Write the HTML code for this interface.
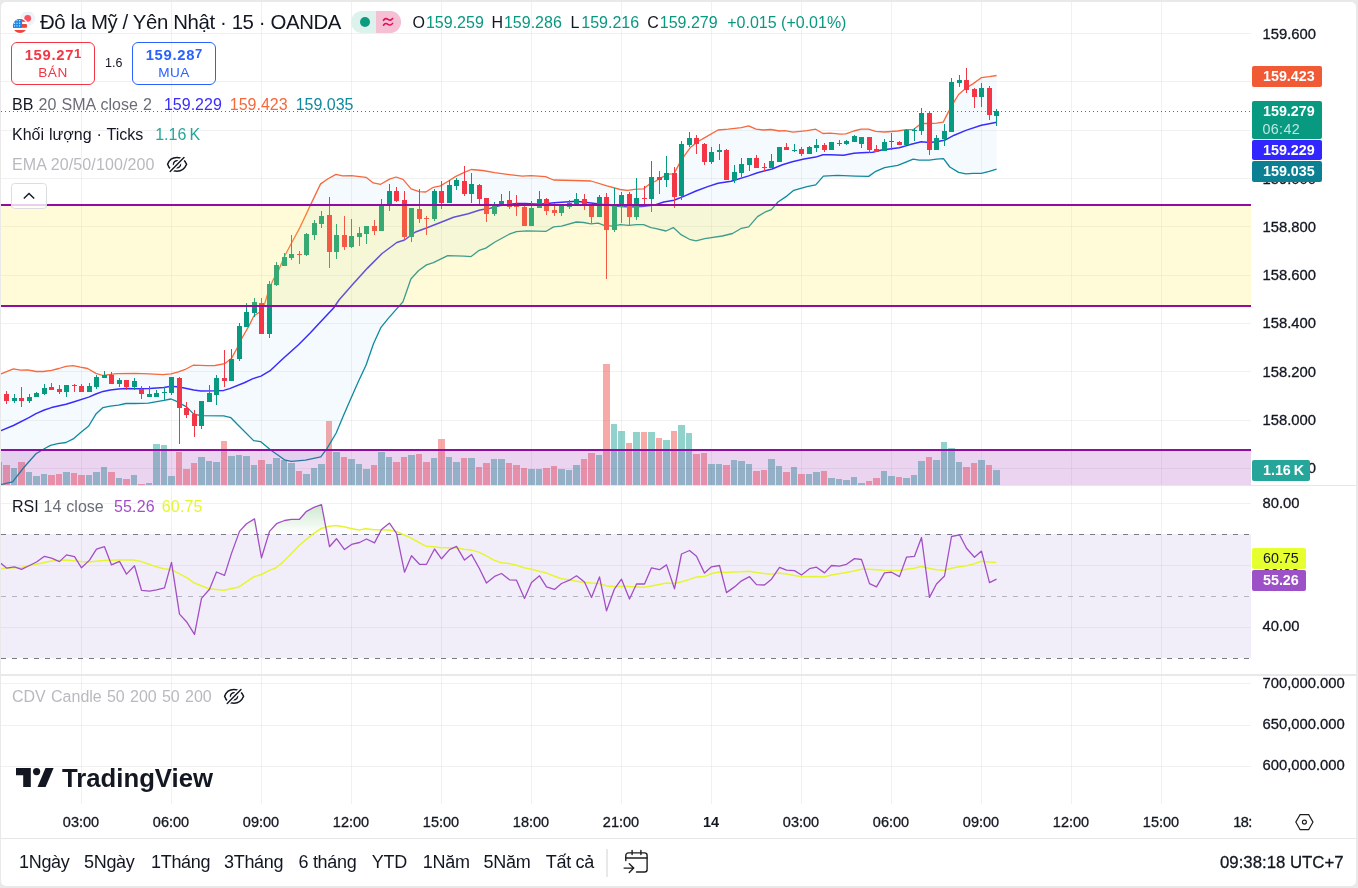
<!DOCTYPE html>
<html><head><meta charset="utf-8"><title>USDJPY</title>
<style>
*{box-sizing:border-box}
html,body{margin:0;padding:0}
body{width:1358px;height:888px;overflow:hidden;background:#e9e9e9;font-family:"Liberation Sans",sans-serif;color:#131722;position:relative}
#frame{position:absolute;left:1px;top:2px;width:1355px;height:884px;background:#fff;border-radius:5px;overflow:hidden}
#wrap{position:absolute;left:-1px;top:-2px;width:1358px;height:888px;will-change:transform}
svg.chart{position:absolute;left:0;top:0}
.t{position:absolute;white-space:nowrap;line-height:1}
.ax{-webkit-text-stroke:.3px #131722;position:absolute;left:1262.500px;font-size:14.800px;line-height:16px;height:16px;white-space:nowrap;color:#131722}
.lb{position:absolute;left:1252px;height:20px;border-radius:2px;color:#fff;font-size:14.300px;line-height:20px;padding-left:11px;white-space:nowrap;font-weight:bold}
.tm{-webkit-text-stroke:.3px #131722;position:absolute;top:813.500px;font-size:14.5px;line-height:16px;width:60px;text-align:center;color:#131722}
.rng{position:absolute;top:851.500px;letter-spacing:-.3px;font-size:18px;line-height:20px;color:#131722;white-space:nowrap}
.lg{position:absolute;left:12px;font-size:16px;line-height:20px;white-space:nowrap;margin-top:1px}
</style></head><body>
<div id="frame"><div id="wrap">
<svg class="chart" width="1358" height="888" viewBox="0 0 1358 888"><rect x="81" y="2" width="1" height="802" fill="rgba(0,0,0,0.055)"/><rect x="171" y="2" width="1" height="802" fill="rgba(0,0,0,0.055)"/><rect x="261" y="2" width="1" height="802" fill="rgba(0,0,0,0.055)"/><rect x="351" y="2" width="1" height="802" fill="rgba(0,0,0,0.055)"/><rect x="441" y="2" width="1" height="802" fill="rgba(0,0,0,0.055)"/><rect x="531" y="2" width="1" height="802" fill="rgba(0,0,0,0.055)"/><rect x="621" y="2" width="1" height="802" fill="rgba(0,0,0,0.055)"/><rect x="711" y="2" width="1" height="802" fill="rgba(0,0,0,0.055)"/><rect x="801" y="2" width="1" height="802" fill="rgba(0,0,0,0.055)"/><rect x="891" y="2" width="1" height="802" fill="rgba(0,0,0,0.055)"/><rect x="981" y="2" width="1" height="802" fill="rgba(0,0,0,0.055)"/><rect x="1071" y="2" width="1" height="802" fill="rgba(0,0,0,0.055)"/><rect x="1161" y="2" width="1" height="802" fill="rgba(0,0,0,0.055)"/><rect x="0" y="33" width="1251" height="1" fill="rgba(0,0,0,0.055)"/><rect x="0" y="81" width="1251" height="1" fill="rgba(0,0,0,0.055)"/><rect x="0" y="130" width="1251" height="1" fill="rgba(0,0,0,0.055)"/><rect x="0" y="178" width="1251" height="1" fill="rgba(0,0,0,0.055)"/><rect x="0" y="226" width="1251" height="1" fill="rgba(0,0,0,0.055)"/><rect x="0" y="275" width="1251" height="1" fill="rgba(0,0,0,0.055)"/><rect x="0" y="323" width="1251" height="1" fill="rgba(0,0,0,0.055)"/><rect x="0" y="371" width="1251" height="1" fill="rgba(0,0,0,0.055)"/><rect x="0" y="420" width="1251" height="1" fill="rgba(0,0,0,0.055)"/><rect x="0" y="468" width="1251" height="1" fill="rgba(0,0,0,0.055)"/><rect x="0" y="503" width="1251" height="1" fill="rgba(0,0,0,0.055)"/><rect x="0" y="565" width="1251" height="1" fill="rgba(0,0,0,0.055)"/><rect x="0" y="627" width="1251" height="1" fill="rgba(0,0,0,0.055)"/><rect x="0" y="683" width="1251" height="1" fill="rgba(0,0,0,0.055)"/><rect x="0" y="725" width="1251" height="1" fill="rgba(0,0,0,0.055)"/><rect x="0" y="766" width="1251" height="1" fill="rgba(0,0,0,0.055)"/><rect x="3" y="465" width="7" height="20" fill="rgba(239,83,80,0.5)"/><rect x="11" y="468" width="6" height="17" fill="rgba(38,166,154,0.5)"/><rect x="18" y="462" width="7" height="23" fill="rgba(239,83,80,0.5)"/><rect x="26" y="472" width="6" height="13" fill="rgba(38,166,154,0.5)"/><rect x="33" y="476" width="7" height="9" fill="rgba(38,166,154,0.5)"/><rect x="41" y="474" width="6" height="11" fill="rgba(38,166,154,0.5)"/><rect x="48" y="475" width="7" height="10" fill="rgba(239,83,80,0.5)"/><rect x="56" y="474" width="6" height="11" fill="rgba(239,83,80,0.5)"/><rect x="63" y="472" width="7" height="13" fill="rgba(38,166,154,0.5)"/><rect x="71" y="473" width="6" height="12" fill="rgba(239,83,80,0.5)"/><rect x="78" y="475" width="7" height="10" fill="rgba(239,83,80,0.5)"/><rect x="86" y="475" width="6" height="10" fill="rgba(38,166,154,0.5)"/><rect x="93" y="472" width="7" height="13" fill="rgba(38,166,154,0.5)"/><rect x="101" y="467" width="6" height="18" fill="rgba(38,166,154,0.5)"/><rect x="108" y="472" width="7" height="13" fill="rgba(239,83,80,0.5)"/><rect x="116" y="478" width="6" height="7" fill="rgba(38,166,154,0.5)"/><rect x="123" y="479" width="7" height="6" fill="rgba(239,83,80,0.5)"/><rect x="131" y="475" width="6" height="10" fill="rgba(38,166,154,0.5)"/><rect x="138" y="484" width="7" height="1" fill="rgba(239,83,80,0.5)"/><rect x="146" y="483" width="6" height="2" fill="rgba(38,166,154,0.5)"/><rect x="153" y="444" width="7" height="41" fill="rgba(38,166,154,0.5)"/><rect x="161" y="445" width="6" height="40" fill="rgba(38,166,154,0.5)"/><rect x="168" y="476" width="7" height="9" fill="rgba(38,166,154,0.5)"/><rect x="176" y="452" width="6" height="33" fill="rgba(239,83,80,0.5)"/><rect x="183" y="469" width="7" height="16" fill="rgba(239,83,80,0.5)"/><rect x="191" y="463" width="6" height="22" fill="rgba(239,83,80,0.5)"/><rect x="198" y="457" width="7" height="28" fill="rgba(38,166,154,0.5)"/><rect x="206" y="461" width="6" height="24" fill="rgba(38,166,154,0.5)"/><rect x="213" y="462" width="7" height="23" fill="rgba(38,166,154,0.5)"/><rect x="221" y="441" width="6" height="44" fill="rgba(239,83,80,0.5)"/><rect x="228" y="456" width="7" height="29" fill="rgba(38,166,154,0.5)"/><rect x="236" y="455" width="6" height="30" fill="rgba(38,166,154,0.5)"/><rect x="243" y="456" width="7" height="29" fill="rgba(38,166,154,0.5)"/><rect x="251" y="465" width="6" height="20" fill="rgba(38,166,154,0.5)"/><rect x="258" y="460" width="7" height="25" fill="rgba(239,83,80,0.5)"/><rect x="266" y="464" width="6" height="21" fill="rgba(38,166,154,0.5)"/><rect x="273" y="458" width="7" height="27" fill="rgba(38,166,154,0.5)"/><rect x="281" y="460" width="6" height="25" fill="rgba(38,166,154,0.5)"/><rect x="288" y="463" width="7" height="22" fill="rgba(38,166,154,0.5)"/><rect x="296" y="471" width="6" height="14" fill="rgba(239,83,80,0.5)"/><rect x="303" y="474" width="7" height="11" fill="rgba(38,166,154,0.5)"/><rect x="311" y="468" width="6" height="17" fill="rgba(38,166,154,0.5)"/><rect x="318" y="464" width="7" height="21" fill="rgba(38,166,154,0.5)"/><rect x="326" y="421" width="6" height="64" fill="rgba(239,83,80,0.5)"/><rect x="333" y="452" width="7" height="33" fill="rgba(38,166,154,0.5)"/><rect x="341" y="457" width="6" height="28" fill="rgba(239,83,80,0.5)"/><rect x="348" y="459" width="7" height="26" fill="rgba(38,166,154,0.5)"/><rect x="356" y="464" width="6" height="21" fill="rgba(38,166,154,0.5)"/><rect x="363" y="469" width="7" height="16" fill="rgba(38,166,154,0.5)"/><rect x="371" y="465" width="6" height="20" fill="rgba(239,83,80,0.5)"/><rect x="378" y="452" width="7" height="33" fill="rgba(38,166,154,0.5)"/><rect x="386" y="457" width="6" height="28" fill="rgba(38,166,154,0.5)"/><rect x="393" y="462" width="7" height="23" fill="rgba(239,83,80,0.5)"/><rect x="401" y="457" width="6" height="28" fill="rgba(239,83,80,0.5)"/><rect x="408" y="455" width="7" height="30" fill="rgba(38,166,154,0.5)"/><rect x="416" y="454" width="6" height="31" fill="rgba(239,83,80,0.5)"/><rect x="423" y="462" width="7" height="23" fill="rgba(239,83,80,0.5)"/><rect x="431" y="458" width="6" height="27" fill="rgba(38,166,154,0.5)"/><rect x="438" y="439" width="7" height="46" fill="rgba(239,83,80,0.5)"/><rect x="446" y="457" width="6" height="28" fill="rgba(38,166,154,0.5)"/><rect x="453" y="462" width="7" height="23" fill="rgba(38,166,154,0.5)"/><rect x="461" y="458" width="6" height="27" fill="rgba(239,83,80,0.5)"/><rect x="468" y="458" width="7" height="27" fill="rgba(38,166,154,0.5)"/><rect x="476" y="467" width="6" height="18" fill="rgba(239,83,80,0.5)"/><rect x="483" y="463" width="7" height="22" fill="rgba(239,83,80,0.5)"/><rect x="491" y="459" width="6" height="26" fill="rgba(38,166,154,0.5)"/><rect x="498" y="459" width="7" height="26" fill="rgba(38,166,154,0.5)"/><rect x="506" y="463" width="6" height="22" fill="rgba(239,83,80,0.5)"/><rect x="513" y="465" width="7" height="20" fill="rgba(239,83,80,0.5)"/><rect x="521" y="468" width="6" height="17" fill="rgba(239,83,80,0.5)"/><rect x="528" y="469" width="7" height="16" fill="rgba(38,166,154,0.5)"/><rect x="536" y="469" width="6" height="16" fill="rgba(38,166,154,0.5)"/><rect x="543" y="468" width="7" height="17" fill="rgba(239,83,80,0.5)"/><rect x="551" y="466" width="6" height="19" fill="rgba(239,83,80,0.5)"/><rect x="558" y="469" width="7" height="16" fill="rgba(38,166,154,0.5)"/><rect x="566" y="470" width="6" height="15" fill="rgba(38,166,154,0.5)"/><rect x="573" y="465" width="7" height="20" fill="rgba(38,166,154,0.5)"/><rect x="581" y="459" width="6" height="26" fill="rgba(239,83,80,0.5)"/><rect x="588" y="453" width="7" height="32" fill="rgba(239,83,80,0.5)"/><rect x="596" y="455" width="6" height="30" fill="rgba(38,166,154,0.5)"/><rect x="603" y="364" width="7" height="121" fill="rgba(239,83,80,0.5)"/><rect x="611" y="424" width="6" height="61" fill="rgba(38,166,154,0.5)"/><rect x="618" y="431" width="7" height="54" fill="rgba(38,166,154,0.5)"/><rect x="626" y="443" width="6" height="42" fill="rgba(239,83,80,0.5)"/><rect x="633" y="432" width="7" height="53" fill="rgba(38,166,154,0.5)"/><rect x="641" y="432" width="6" height="53" fill="rgba(239,83,80,0.5)"/><rect x="648" y="432" width="7" height="53" fill="rgba(38,166,154,0.5)"/><rect x="656" y="438" width="6" height="47" fill="rgba(239,83,80,0.5)"/><rect x="663" y="440" width="7" height="45" fill="rgba(38,166,154,0.5)"/><rect x="671" y="431" width="6" height="54" fill="rgba(239,83,80,0.5)"/><rect x="678" y="425" width="7" height="60" fill="rgba(38,166,154,0.5)"/><rect x="686" y="433" width="6" height="52" fill="rgba(38,166,154,0.5)"/><rect x="693" y="454" width="7" height="31" fill="rgba(239,83,80,0.5)"/><rect x="701" y="453" width="6" height="32" fill="rgba(239,83,80,0.5)"/><rect x="708" y="464" width="7" height="21" fill="rgba(38,166,154,0.5)"/><rect x="716" y="464" width="6" height="21" fill="rgba(38,166,154,0.5)"/><rect x="723" y="465" width="7" height="20" fill="rgba(239,83,80,0.5)"/><rect x="731" y="460" width="6" height="25" fill="rgba(38,166,154,0.5)"/><rect x="738" y="461" width="7" height="24" fill="rgba(38,166,154,0.5)"/><rect x="746" y="464" width="6" height="21" fill="rgba(38,166,154,0.5)"/><rect x="753" y="471" width="7" height="14" fill="rgba(239,83,80,0.5)"/><rect x="761" y="470" width="6" height="15" fill="rgba(239,83,80,0.5)"/><rect x="768" y="459" width="7" height="26" fill="rgba(38,166,154,0.5)"/><rect x="776" y="466" width="6" height="19" fill="rgba(38,166,154,0.5)"/><rect x="783" y="472" width="7" height="13" fill="rgba(239,83,80,0.5)"/><rect x="791" y="467" width="6" height="18" fill="rgba(38,166,154,0.5)"/><rect x="798" y="474" width="7" height="11" fill="rgba(239,83,80,0.5)"/><rect x="806" y="474" width="6" height="11" fill="rgba(38,166,154,0.5)"/><rect x="813" y="472" width="7" height="13" fill="rgba(38,166,154,0.5)"/><rect x="821" y="471" width="6" height="14" fill="rgba(239,83,80,0.5)"/><rect x="828" y="478" width="7" height="7" fill="rgba(38,166,154,0.5)"/><rect x="836" y="479" width="6" height="6" fill="rgba(38,166,154,0.5)"/><rect x="843" y="480" width="7" height="5" fill="rgba(38,166,154,0.5)"/><rect x="851" y="477" width="6" height="8" fill="rgba(38,166,154,0.5)"/><rect x="858" y="483" width="7" height="2" fill="rgba(38,166,154,0.5)"/><rect x="866" y="481" width="6" height="4" fill="rgba(239,83,80,0.5)"/><rect x="873" y="478" width="7" height="7" fill="rgba(239,83,80,0.5)"/><rect x="881" y="471" width="6" height="14" fill="rgba(38,166,154,0.5)"/><rect x="888" y="476" width="7" height="9" fill="rgba(38,166,154,0.5)"/><rect x="896" y="477" width="6" height="8" fill="rgba(239,83,80,0.5)"/><rect x="903" y="478" width="7" height="7" fill="rgba(38,166,154,0.5)"/><rect x="911" y="475" width="6" height="10" fill="rgba(38,166,154,0.5)"/><rect x="918" y="461" width="7" height="24" fill="rgba(38,166,154,0.5)"/><rect x="926" y="457" width="6" height="28" fill="rgba(239,83,80,0.5)"/><rect x="933" y="460" width="7" height="25" fill="rgba(38,166,154,0.5)"/><rect x="941" y="442" width="6" height="43" fill="rgba(38,166,154,0.5)"/><rect x="948" y="448" width="7" height="37" fill="rgba(38,166,154,0.5)"/><rect x="956" y="462" width="6" height="23" fill="rgba(38,166,154,0.5)"/><rect x="963" y="467" width="7" height="18" fill="rgba(239,83,80,0.5)"/><rect x="971" y="463" width="6" height="22" fill="rgba(239,83,80,0.5)"/><rect x="978" y="460" width="7" height="25" fill="rgba(38,166,154,0.5)"/><rect x="986" y="465" width="6" height="20" fill="rgba(239,83,80,0.5)"/><rect x="993" y="470" width="7" height="15" fill="rgba(38,166,154,0.5)"/><rect x="0" y="462" width="2" height="23" fill="rgba(38,166,154,0.5)"/><polygon points="0.0,374.2 1.0,373.9 13.4,368.8 20.6,370.1 27.8,369.8 36.0,371.5 43.3,371.5 51.5,370.3 58.8,368.5 66.0,366.4 73.2,365.7 80.4,367.2 87.6,368.5 95.9,373.4 103.0,375.5 109.0,374.6 116.5,373.6 135.0,373.4 149.4,373.9 162.8,374.6 171.0,373.9 178.3,371.9 185.5,369.3 193.2,365.2 207.0,365.7 215.0,365.5 224.5,363.7 231.4,358.6 237.0,348.3 242.0,338.0 248.7,326.4 253.8,316.0 259.0,312.5 264.8,303.4 269.4,288.0 273.6,279.0 278.9,269.6 284.8,255.7 291.4,243.2 300.1,227.1 310.4,205.1 320.6,183.9 328.0,178.8 336.0,174.4 342.6,175.9 351.4,175.6 366.0,177.3 373.3,182.9 380.7,184.3 389.5,179.1 396.0,177.0 403.0,179.3 411.1,188.8 419.2,191.7 425.7,192.0 433.4,187.3 440.4,185.9 447.7,181.5 455.8,176.4 463.8,172.7 471.1,169.5 482.8,170.5 494.6,172.7 509.2,174.6 522.4,176.1 530.9,175.6 545.5,176.6 553.6,180.0 574.8,180.5 590.9,181.0 607.0,185.9 620.2,189.5 627.5,190.3 636.3,189.2 643.6,188.8 650.9,182.9 655.0,181.5 660.9,177.8 668.2,174.2 674.0,173.9 679.2,163.9 684.3,155.9 690.1,147.8 697.5,141.7 704.8,137.6 718.0,130.0 728.2,129.1 741.4,127.6 748.7,125.9 756.0,129.1 763.3,130.0 770.7,129.5 779.5,131.0 785.0,130.7 793.0,132.2 807.0,130.7 815.7,129.2 823.0,133.5 830.4,133.2 840.6,134.2 845.8,133.9 853.8,131.0 861.1,129.1 868.5,129.1 875.8,131.3 884.6,132.0 897.7,131.0 905.9,129.7 913.2,129.7 921.2,123.5 929.3,123.5 936.6,123.1 943.2,122.1 948.3,112.1 954.2,101.6 958.6,94.5 965.2,88.7 973.2,83.6 981.3,77.7 989.3,76.7 996.6,75.5 996.6,169.2 989.3,171.4 981.3,173.3 973.2,173.3 965.9,173.9 958.6,172.4 949.8,167.0 943.5,158.7 936.6,159.2 929.3,160.1 919.0,160.1 913.2,159.2 905.9,162.2 897.7,165.4 884.6,167.6 875.8,171.3 868.7,176.4 855.3,176.1 837.7,175.4 823.4,176.1 815.7,184.9 807.0,186.6 793.8,190.3 786.8,196.1 778.0,202.0 771.4,209.6 764.8,212.2 757.5,216.6 748.7,226.9 741.4,228.3 732.6,233.5 722.3,236.0 704.8,238.6 696.0,240.8 689.4,239.3 681.4,234.9 673.3,227.6 666.0,231.0 655.0,228.3 650.9,227.6 643.6,224.7 636.3,224.7 629.0,225.4 620.2,224.7 612.8,226.1 604.0,225.4 598.2,223.2 590.9,223.9 583.6,222.5 576.2,222.0 561.6,226.1 553.6,226.9 546.2,231.3 526.8,230.8 516.5,231.7 509.2,234.2 494.6,242.2 485.8,248.1 479.2,250.3 471.1,256.6 463.8,256.1 447.7,255.7 433.4,262.7 426.5,264.9 418.4,270.8 410.9,279.0 403.0,301.7 396.0,309.6 388.5,318.1 381.0,327.3 373.5,343.8 366.0,365.2 358.5,381.2 351.0,398.3 343.5,415.5 336.2,433.0 326.6,449.2 320.8,456.9 305.5,460.2 291.2,461.3 284.5,459.8 271.0,450.2 260.5,441.6 253.6,440.6 238.0,425.0 230.9,417.7 223.7,415.9 201.0,415.7 193.8,414.1 186.5,406.9 176.2,401.2 171.0,399.0 163.9,400.4 148.4,403.1 135.0,403.5 125.8,403.5 118.6,405.2 110.3,406.2 103.0,407.6 95.9,414.1 88.7,426.0 80.4,432.7 73.2,438.9 66.0,442.5 57.7,443.7 50.5,445.4 44.3,448.7 36.0,453.8 23.4,468.0 12.6,481.9 1.8,484.4 0.0,485.5" fill="rgba(33,150,243,0.05)"/><polyline points="0.0,374.2 1.0,373.9 13.4,368.8 20.6,370.1 27.8,369.8 36.0,371.5 43.3,371.5 51.5,370.3 58.8,368.5 66.0,366.4 73.2,365.7 80.4,367.2 87.6,368.5 95.9,373.4 103.0,375.5 109.0,374.6 116.5,373.6 135.0,373.4 149.4,373.9 162.8,374.6 171.0,373.9 178.3,371.9 185.5,369.3 193.2,365.2 207.0,365.7 215.0,365.5 224.5,363.7 231.4,358.6 237.0,348.3 242.0,338.0 248.7,326.4 253.8,316.0 259.0,312.5 264.8,303.4 269.4,288.0 273.6,279.0 278.9,269.6 284.8,255.7 291.4,243.2 300.1,227.1 310.4,205.1 320.6,183.9 328.0,178.8 336.0,174.4 342.6,175.9 351.4,175.6 366.0,177.3 373.3,182.9 380.7,184.3 389.5,179.1 396.0,177.0 403.0,179.3 411.1,188.8 419.2,191.7 425.7,192.0 433.4,187.3 440.4,185.9 447.7,181.5 455.8,176.4 463.8,172.7 471.1,169.5 482.8,170.5 494.6,172.7 509.2,174.6 522.4,176.1 530.9,175.6 545.5,176.6 553.6,180.0 574.8,180.5 590.9,181.0 607.0,185.9 620.2,189.5 627.5,190.3 636.3,189.2 643.6,188.8 650.9,182.9 655.0,181.5 660.9,177.8 668.2,174.2 674.0,173.9 679.2,163.9 684.3,155.9 690.1,147.8 697.5,141.7 704.8,137.6 718.0,130.0 728.2,129.1 741.4,127.6 748.7,125.9 756.0,129.1 763.3,130.0 770.7,129.5 779.5,131.0 785.0,130.7 793.0,132.2 807.0,130.7 815.7,129.2 823.0,133.5 830.4,133.2 840.6,134.2 845.8,133.9 853.8,131.0 861.1,129.1 868.5,129.1 875.8,131.3 884.6,132.0 897.7,131.0 905.9,129.7 913.2,129.7 921.2,123.5 929.3,123.5 936.6,123.1 943.2,122.1 948.3,112.1 954.2,101.6 958.6,94.5 965.2,88.7 973.2,83.6 981.3,77.7 989.3,76.7 996.6,75.5" fill="none" stroke="#f7683b" stroke-width="1.3" stroke-linejoin="round"/><polyline points="0.0,485.5 1.8,484.4 12.6,481.9 23.4,468.0 36.0,453.8 44.3,448.7 50.5,445.4 57.7,443.7 66.0,442.5 73.2,438.9 80.4,432.7 88.7,426.0 95.9,414.1 103.0,407.6 110.3,406.2 118.6,405.2 125.8,403.5 135.0,403.5 148.4,403.1 163.9,400.4 171.0,399.0 176.2,401.2 186.5,406.9 193.8,414.1 201.0,415.7 223.7,415.9 230.9,417.7 238.0,425.0 253.6,440.6 260.5,441.6 271.0,450.2 284.5,459.8 291.2,461.3 305.5,460.2 320.8,456.9 326.6,449.2 336.2,433.0 343.5,415.5 351.0,398.3 358.5,381.2 366.0,365.2 373.5,343.8 381.0,327.3 388.5,318.1 396.0,309.6 403.0,301.7 410.9,279.0 418.4,270.8 426.5,264.9 433.4,262.7 447.7,255.7 463.8,256.1 471.1,256.6 479.2,250.3 485.8,248.1 494.6,242.2 509.2,234.2 516.5,231.7 526.8,230.8 546.2,231.3 553.6,226.9 561.6,226.1 576.2,222.0 583.6,222.5 590.9,223.9 598.2,223.2 604.0,225.4 612.8,226.1 620.2,224.7 629.0,225.4 636.3,224.7 643.6,224.7 650.9,227.6 655.0,228.3 666.0,231.0 673.3,227.6 681.4,234.9 689.4,239.3 696.0,240.8 704.8,238.6 722.3,236.0 732.6,233.5 741.4,228.3 748.7,226.9 757.5,216.6 764.8,212.2 771.4,209.6 778.0,202.0 786.8,196.1 793.8,190.3 807.0,186.6 815.7,184.9 823.4,176.1 837.7,175.4 855.3,176.1 868.7,176.4 875.8,171.3 884.6,167.6 897.7,165.4 905.9,162.2 913.2,159.2 919.0,160.1 929.3,160.1 936.6,159.2 943.5,158.7 949.8,167.0 958.6,172.4 965.9,173.9 973.2,173.3 981.3,173.3 989.3,171.4 996.6,169.2" fill="none" stroke="#0e8a9e" stroke-width="1.3" stroke-linejoin="round"/><polyline points="0.0,431.0 1.0,430.6 13.4,425.5 28.9,417.7 36.0,413.6 44.3,410.0 51.5,407.6 66.0,404.3 74.2,401.8 88.7,397.1 95.9,394.0 103.0,391.4 110.3,390.1 118.6,389.1 125.8,388.4 135.0,388.7 149.4,388.4 163.9,387.6 171.0,386.3 179.3,387.0 186.5,388.4 193.8,390.1 201.0,390.9 215.4,390.7 223.7,390.4 229.6,388.6 244.3,382.7 253.0,378.6 261.0,376.1 270.6,370.3 282.3,359.3 298.5,344.7 310.2,333.0 320.4,322.0 333.6,308.0 339.0,300.0 352.8,284.2 367.5,268.1 382.1,253.5 396.8,242.5 404.5,240.0 415.5,232.0 425.7,228.3 440.4,222.5 453.6,217.3 468.2,213.7 479.9,210.0 490.2,208.3 500.4,205.6 516.5,203.4 525.0,203.4 539.6,204.2 554.3,202.7 576.2,201.2 590.9,203.0 607.0,204.9 620.2,206.4 630.4,207.1 642.1,206.4 655.0,204.9 663.8,202.0 674.0,200.2 684.3,196.1 696.0,191.0 707.7,186.6 718.0,183.2 731.1,181.2 748.7,175.9 757.5,172.7 772.1,169.0 782.4,164.7 792.3,161.7 804.0,159.1 815.7,157.1 823.0,154.7 830.4,154.7 843.6,155.2 853.8,153.2 861.1,152.7 872.8,152.2 881.6,150.0 899.2,147.8 910.2,144.6 921.2,141.7 929.3,142.4 936.6,141.7 945.4,139.9 954.2,135.2 965.9,130.4 981.3,125.3 989.3,123.8 996.6,122.3" fill="none" stroke="#3a2cff" stroke-width="1.5" stroke-linejoin="round"/><rect x="6.0" y="391.0" width="1" height="13.0" fill="#f23645"/><rect x="4.0" y="394.0" width="5" height="7.0" fill="#f23645"/><rect x="14.0" y="394.0" width="1" height="9.0" fill="#089981"/><rect x="12.0" y="398.0" width="5" height="3.0" fill="#089981"/><rect x="21.0" y="387.0" width="1" height="20.0" fill="#f23645"/><rect x="19.0" y="398.0" width="5" height="3.0" fill="#f23645"/><rect x="29.0" y="394.0" width="1" height="9.0" fill="#089981"/><rect x="27.0" y="397.0" width="5" height="4.0" fill="#089981"/><rect x="36.0" y="392.0" width="1" height="5.0" fill="#089981"/><rect x="34.0" y="393.0" width="5" height="4.0" fill="#089981"/><rect x="44.0" y="384.0" width="1" height="11.0" fill="#089981"/><rect x="42.0" y="388.0" width="5" height="6.0" fill="#089981"/><rect x="51.0" y="383.0" width="1" height="7.0" fill="#f23645"/><rect x="49.0" y="387.0" width="5" height="3.0" fill="#f23645"/><rect x="59.0" y="385.0" width="1" height="9.0" fill="#f23645"/><rect x="57.0" y="389.0" width="5" height="3.0" fill="#f23645"/><rect x="66.0" y="385.0" width="1" height="12.0" fill="#089981"/><rect x="64.0" y="385.0" width="5" height="7.0" fill="#089981"/><rect x="74.0" y="384.0" width="1" height="8.0" fill="#f23645"/><rect x="72.0" y="385.0" width="5" height="1.0" fill="#f23645"/><rect x="81.0" y="384.0" width="1" height="8.0" fill="#f23645"/><rect x="79.0" y="386.0" width="5" height="6.0" fill="#f23645"/><rect x="89.0" y="383.0" width="1" height="9.0" fill="#089981"/><rect x="87.0" y="386.0" width="5" height="6.0" fill="#089981"/><rect x="96.0" y="375.0" width="1" height="14.0" fill="#089981"/><rect x="94.0" y="377.0" width="5" height="10.0" fill="#089981"/><rect x="104.0" y="371.0" width="1" height="7.0" fill="#089981"/><rect x="102.0" y="375.0" width="5" height="3.0" fill="#089981"/><rect x="111.0" y="372.0" width="1" height="12.0" fill="#f23645"/><rect x="109.0" y="375.0" width="5" height="9.0" fill="#f23645"/><rect x="119.0" y="378.0" width="1" height="9.0" fill="#089981"/><rect x="117.0" y="380.0" width="5" height="4.0" fill="#089981"/><rect x="126.0" y="380.0" width="1" height="10.0" fill="#f23645"/><rect x="124.0" y="380.0" width="5" height="7.0" fill="#f23645"/><rect x="134.0" y="378.0" width="1" height="12.0" fill="#089981"/><rect x="132.0" y="381.0" width="5" height="6.0" fill="#089981"/><rect x="141.0" y="386.0" width="1" height="13.0" fill="#f23645"/><rect x="139.0" y="389.0" width="5" height="5.0" fill="#f23645"/><rect x="149.0" y="386.0" width="1" height="11.0" fill="#089981"/><rect x="147.0" y="394.0" width="5" height="3.0" fill="#089981"/><rect x="156.0" y="390.0" width="1" height="7.0" fill="#089981"/><rect x="154.0" y="393.0" width="5" height="4.0" fill="#089981"/><rect x="164.0" y="387.0" width="1" height="13.0" fill="#089981"/><rect x="162.0" y="392.0" width="5" height="1.0" fill="#089981"/><rect x="171.0" y="377.0" width="1" height="18.0" fill="#089981"/><rect x="169.0" y="377.0" width="5" height="16.0" fill="#089981"/><rect x="179.0" y="377.0" width="1" height="67.0" fill="#f23645"/><rect x="177.0" y="378.0" width="5" height="30.0" fill="#f23645"/><rect x="186.0" y="402.0" width="1" height="16.0" fill="#f23645"/><rect x="184.0" y="408.0" width="5" height="7.0" fill="#f23645"/><rect x="194.0" y="410.0" width="1" height="27.0" fill="#f23645"/><rect x="192.0" y="414.0" width="5" height="12.0" fill="#f23645"/><rect x="201.0" y="401.0" width="1" height="28.0" fill="#089981"/><rect x="199.0" y="401.0" width="5" height="25.0" fill="#089981"/><rect x="209.0" y="385.0" width="1" height="17.0" fill="#089981"/><rect x="207.0" y="393.0" width="5" height="9.0" fill="#089981"/><rect x="216.0" y="375.0" width="1" height="30.0" fill="#089981"/><rect x="214.0" y="378.0" width="5" height="17.0" fill="#089981"/><rect x="224.0" y="350.0" width="1" height="37.0" fill="#f23645"/><rect x="222.0" y="378.0" width="5" height="3.0" fill="#f23645"/><rect x="231.0" y="349.0" width="1" height="32.0" fill="#089981"/><rect x="229.0" y="359.0" width="5" height="22.0" fill="#089981"/><rect x="239.0" y="323.0" width="1" height="38.0" fill="#089981"/><rect x="237.0" y="326.0" width="5" height="33.0" fill="#089981"/><rect x="246.0" y="303.0" width="1" height="24.0" fill="#089981"/><rect x="244.0" y="312.0" width="5" height="15.0" fill="#089981"/><rect x="254.0" y="298.0" width="1" height="19.0" fill="#089981"/><rect x="252.0" y="302.0" width="5" height="11.0" fill="#089981"/><rect x="261.0" y="298.0" width="1" height="36.0" fill="#f23645"/><rect x="259.0" y="303.0" width="5" height="31.0" fill="#f23645"/><rect x="269.0" y="281.0" width="1" height="57.0" fill="#089981"/><rect x="267.0" y="284.0" width="5" height="50.0" fill="#089981"/><rect x="276.0" y="262.0" width="1" height="24.0" fill="#089981"/><rect x="274.0" y="265.0" width="5" height="20.0" fill="#089981"/><rect x="284.0" y="253.0" width="1" height="13.0" fill="#089981"/><rect x="282.0" y="257.0" width="5" height="9.0" fill="#089981"/><rect x="291.0" y="235.0" width="1" height="25.0" fill="#089981"/><rect x="289.0" y="254.0" width="5" height="4.0" fill="#089981"/><rect x="299.0" y="251.0" width="1" height="13.0" fill="#f23645"/><rect x="297.0" y="254.0" width="5" height="1.0" fill="#f23645"/><rect x="306.0" y="233.0" width="1" height="23.0" fill="#089981"/><rect x="304.0" y="234.0" width="5" height="21.0" fill="#089981"/><rect x="314.0" y="220.0" width="1" height="20.0" fill="#089981"/><rect x="312.0" y="223.0" width="5" height="12.0" fill="#089981"/><rect x="321.0" y="211.0" width="1" height="17.0" fill="#089981"/><rect x="319.0" y="216.0" width="5" height="8.0" fill="#089981"/><rect x="329.0" y="197.0" width="1" height="71.0" fill="#f23645"/><rect x="327.0" y="215.0" width="5" height="37.0" fill="#f23645"/><rect x="336.0" y="224.0" width="1" height="35.0" fill="#089981"/><rect x="334.0" y="235.0" width="5" height="17.0" fill="#089981"/><rect x="344.0" y="216.0" width="1" height="34.0" fill="#f23645"/><rect x="342.0" y="235.0" width="5" height="12.0" fill="#f23645"/><rect x="351.0" y="219.0" width="1" height="29.0" fill="#089981"/><rect x="349.0" y="236.0" width="5" height="11.0" fill="#089981"/><rect x="359.0" y="227.0" width="1" height="19.0" fill="#089981"/><rect x="357.0" y="233.0" width="5" height="4.0" fill="#089981"/><rect x="366.0" y="226.0" width="1" height="18.0" fill="#089981"/><rect x="364.0" y="226.0" width="5" height="8.0" fill="#089981"/><rect x="374.0" y="220.0" width="1" height="15.0" fill="#f23645"/><rect x="372.0" y="226.0" width="5" height="5.0" fill="#f23645"/><rect x="381.0" y="199.0" width="1" height="32.0" fill="#089981"/><rect x="379.0" y="206.0" width="5" height="25.0" fill="#089981"/><rect x="389.0" y="184.0" width="1" height="27.0" fill="#089981"/><rect x="387.0" y="191.0" width="5" height="13.0" fill="#089981"/><rect x="396.0" y="187.0" width="1" height="15.0" fill="#f23645"/><rect x="394.0" y="191.0" width="5" height="10.0" fill="#f23645"/><rect x="404.0" y="191.0" width="1" height="48.0" fill="#f23645"/><rect x="402.0" y="200.0" width="5" height="37.0" fill="#f23645"/><rect x="411.0" y="208.0" width="1" height="34.0" fill="#089981"/><rect x="409.0" y="208.0" width="5" height="29.0" fill="#089981"/><rect x="419.0" y="189.0" width="1" height="34.0" fill="#f23645"/><rect x="417.0" y="209.0" width="5" height="10.0" fill="#f23645"/><rect x="426.0" y="216.0" width="1" height="19.0" fill="#f23645"/><rect x="424.0" y="218.0" width="5" height="1.0" fill="#f23645"/><rect x="434.0" y="189.0" width="1" height="32.0" fill="#089981"/><rect x="432.0" y="191.0" width="5" height="28.0" fill="#089981"/><rect x="441.0" y="181.0" width="1" height="28.0" fill="#f23645"/><rect x="439.0" y="191.0" width="5" height="12.0" fill="#f23645"/><rect x="449.0" y="180.0" width="1" height="23.0" fill="#089981"/><rect x="447.0" y="185.0" width="5" height="18.0" fill="#089981"/><rect x="456.0" y="178.0" width="1" height="12.0" fill="#089981"/><rect x="454.0" y="180.0" width="5" height="6.0" fill="#089981"/><rect x="464.0" y="166.0" width="1" height="30.0" fill="#f23645"/><rect x="462.0" y="181.0" width="5" height="13.0" fill="#f23645"/><rect x="471.0" y="173.0" width="1" height="30.0" fill="#089981"/><rect x="469.0" y="184.0" width="5" height="10.0" fill="#089981"/><rect x="479.0" y="184.0" width="1" height="20.0" fill="#f23645"/><rect x="477.0" y="185.0" width="5" height="14.0" fill="#f23645"/><rect x="486.0" y="198.0" width="1" height="24.0" fill="#f23645"/><rect x="484.0" y="198.0" width="5" height="16.0" fill="#f23645"/><rect x="494.0" y="202.0" width="1" height="14.0" fill="#089981"/><rect x="492.0" y="206.0" width="5" height="8.0" fill="#089981"/><rect x="501.0" y="194.0" width="1" height="12.0" fill="#089981"/><rect x="499.0" y="201.0" width="5" height="5.0" fill="#089981"/><rect x="509.0" y="191.0" width="1" height="18.0" fill="#f23645"/><rect x="507.0" y="200.0" width="5" height="7.0" fill="#f23645"/><rect x="516.0" y="195.0" width="1" height="21.0" fill="#f23645"/><rect x="514.0" y="205.0" width="5" height="2.0" fill="#f23645"/><rect x="524.0" y="206.0" width="1" height="20.0" fill="#f23645"/><rect x="522.0" y="207.0" width="5" height="19.0" fill="#f23645"/><rect x="531.0" y="201.0" width="1" height="25.0" fill="#089981"/><rect x="529.0" y="208.0" width="5" height="18.0" fill="#089981"/><rect x="539.0" y="191.0" width="1" height="17.0" fill="#089981"/><rect x="537.0" y="199.0" width="5" height="9.0" fill="#089981"/><rect x="546.0" y="198.0" width="1" height="17.0" fill="#f23645"/><rect x="544.0" y="199.0" width="5" height="12.0" fill="#f23645"/><rect x="554.0" y="203.0" width="1" height="13.0" fill="#f23645"/><rect x="552.0" y="210.0" width="5" height="3.0" fill="#f23645"/><rect x="561.0" y="206.0" width="1" height="10.0" fill="#089981"/><rect x="559.0" y="206.0" width="5" height="7.0" fill="#089981"/><rect x="569.0" y="200.0" width="1" height="9.0" fill="#089981"/><rect x="567.0" y="203.0" width="5" height="4.0" fill="#089981"/><rect x="576.0" y="193.0" width="1" height="11.0" fill="#089981"/><rect x="574.0" y="199.0" width="5" height="5.0" fill="#089981"/><rect x="584.0" y="194.0" width="1" height="16.0" fill="#f23645"/><rect x="582.0" y="199.0" width="5" height="5.0" fill="#f23645"/><rect x="591.0" y="202.0" width="1" height="21.0" fill="#f23645"/><rect x="589.0" y="206.0" width="5" height="11.0" fill="#f23645"/><rect x="599.0" y="195.0" width="1" height="22.0" fill="#089981"/><rect x="597.0" y="197.0" width="5" height="20.0" fill="#089981"/><rect x="606.0" y="193.0" width="1" height="86.0" fill="#f23645"/><rect x="604.0" y="197.0" width="5" height="33.0" fill="#f23645"/><rect x="614.0" y="188.0" width="1" height="44.0" fill="#089981"/><rect x="612.0" y="206.0" width="5" height="24.0" fill="#089981"/><rect x="621.0" y="192.0" width="1" height="31.0" fill="#089981"/><rect x="619.0" y="195.0" width="5" height="12.0" fill="#089981"/><rect x="629.0" y="192.0" width="1" height="33.0" fill="#f23645"/><rect x="627.0" y="194.0" width="5" height="23.0" fill="#f23645"/><rect x="636.0" y="178.0" width="1" height="42.0" fill="#089981"/><rect x="634.0" y="198.0" width="5" height="19.0" fill="#089981"/><rect x="644.0" y="186.0" width="1" height="18.0" fill="#f23645"/><rect x="642.0" y="198.0" width="5" height="1.0" fill="#f23645"/><rect x="651.0" y="161.0" width="1" height="51.0" fill="#089981"/><rect x="649.0" y="177.0" width="5" height="22.0" fill="#089981"/><rect x="659.0" y="171.0" width="1" height="23.0" fill="#f23645"/><rect x="657.0" y="177.0" width="5" height="3.0" fill="#f23645"/><rect x="666.0" y="156.0" width="1" height="31.0" fill="#089981"/><rect x="664.0" y="173.0" width="5" height="7.0" fill="#089981"/><rect x="674.0" y="167.0" width="1" height="41.0" fill="#f23645"/><rect x="672.0" y="173.0" width="5" height="24.0" fill="#f23645"/><rect x="681.0" y="141.0" width="1" height="59.0" fill="#089981"/><rect x="679.0" y="144.0" width="5" height="52.0" fill="#089981"/><rect x="689.0" y="132.0" width="1" height="15.0" fill="#089981"/><rect x="687.0" y="138.0" width="5" height="7.0" fill="#089981"/><rect x="696.0" y="135.0" width="1" height="19.0" fill="#f23645"/><rect x="694.0" y="138.0" width="5" height="6.0" fill="#f23645"/><rect x="704.0" y="143.0" width="1" height="22.0" fill="#f23645"/><rect x="702.0" y="144.0" width="5" height="18.0" fill="#f23645"/><rect x="711.0" y="147.0" width="1" height="17.0" fill="#089981"/><rect x="709.0" y="152.0" width="5" height="10.0" fill="#089981"/><rect x="719.0" y="144.0" width="1" height="16.0" fill="#089981"/><rect x="717.0" y="150.0" width="5" height="2.0" fill="#089981"/><rect x="726.0" y="149.0" width="1" height="31.0" fill="#f23645"/><rect x="724.0" y="150.0" width="5" height="30.0" fill="#f23645"/><rect x="734.0" y="165.0" width="1" height="18.0" fill="#089981"/><rect x="732.0" y="172.0" width="5" height="8.0" fill="#089981"/><rect x="741.0" y="158.0" width="1" height="19.0" fill="#089981"/><rect x="739.0" y="164.0" width="5" height="9.0" fill="#089981"/><rect x="749.0" y="158.0" width="1" height="13.0" fill="#089981"/><rect x="747.0" y="158.0" width="5" height="7.0" fill="#089981"/><rect x="756.0" y="155.0" width="1" height="13.0" fill="#f23645"/><rect x="754.0" y="158.0" width="5" height="10.0" fill="#f23645"/><rect x="764.0" y="163.0" width="1" height="8.0" fill="#f23645"/><rect x="762.0" y="167.0" width="5" height="1.0" fill="#f23645"/><rect x="771.0" y="154.0" width="1" height="14.0" fill="#089981"/><rect x="769.0" y="161.0" width="5" height="7.0" fill="#089981"/><rect x="779.0" y="147.0" width="1" height="15.0" fill="#089981"/><rect x="777.0" y="147.0" width="5" height="15.0" fill="#089981"/><rect x="786.0" y="143.0" width="1" height="7.0" fill="#f23645"/><rect x="784.0" y="147.0" width="5" height="3.0" fill="#f23645"/><rect x="794.0" y="144.0" width="1" height="8.0" fill="#089981"/><rect x="792.0" y="150.0" width="5" height="1.0" fill="#089981"/><rect x="801.0" y="147.0" width="1" height="9.0" fill="#f23645"/><rect x="799.0" y="149.0" width="5" height="5.0" fill="#f23645"/><rect x="809.0" y="146.0" width="1" height="8.0" fill="#089981"/><rect x="807.0" y="147.0" width="5" height="7.0" fill="#089981"/><rect x="816.0" y="139.0" width="1" height="13.0" fill="#089981"/><rect x="814.0" y="145.0" width="5" height="3.0" fill="#089981"/><rect x="824.0" y="143.0" width="1" height="9.0" fill="#f23645"/><rect x="822.0" y="145.0" width="5" height="5.0" fill="#f23645"/><rect x="831.0" y="142.0" width="1" height="8.0" fill="#089981"/><rect x="829.0" y="142.0" width="5" height="8.0" fill="#089981"/><rect x="839.0" y="140.0" width="1" height="6.0" fill="#089981"/><rect x="837.0" y="143.0" width="5" height="1.0" fill="#089981"/><rect x="846.0" y="140.0" width="1" height="5.0" fill="#089981"/><rect x="844.0" y="141.0" width="5" height="3.0" fill="#089981"/><rect x="854.0" y="135.0" width="1" height="7.0" fill="#089981"/><rect x="852.0" y="136.0" width="5" height="6.0" fill="#089981"/><rect x="861.0" y="137.0" width="1" height="11.0" fill="#089981"/><rect x="859.0" y="137.0" width="5" height="7.0" fill="#089981"/><rect x="869.0" y="137.0" width="1" height="16.0" fill="#f23645"/><rect x="867.0" y="137.0" width="5" height="13.0" fill="#f23645"/><rect x="876.0" y="145.0" width="1" height="7.0" fill="#f23645"/><rect x="874.0" y="149.0" width="5" height="3.0" fill="#f23645"/><rect x="884.0" y="139.0" width="1" height="12.0" fill="#089981"/><rect x="882.0" y="142.0" width="5" height="9.0" fill="#089981"/><rect x="891.0" y="133.0" width="1" height="17.0" fill="#089981"/><rect x="889.0" y="141.0" width="5" height="1.0" fill="#089981"/><rect x="899.0" y="141.0" width="1" height="4.0" fill="#f23645"/><rect x="897.0" y="142.0" width="5" height="3.0" fill="#f23645"/><rect x="906.0" y="129.0" width="1" height="16.0" fill="#089981"/><rect x="904.0" y="130.0" width="5" height="15.0" fill="#089981"/><rect x="914.0" y="128.0" width="1" height="13.0" fill="#089981"/><rect x="912.0" y="130.0" width="5" height="1.0" fill="#089981"/><rect x="921.0" y="108.0" width="1" height="27.0" fill="#089981"/><rect x="919.0" y="113.0" width="5" height="18.0" fill="#089981"/><rect x="929.0" y="112.0" width="1" height="43.0" fill="#f23645"/><rect x="927.0" y="113.0" width="5" height="37.0" fill="#f23645"/><rect x="936.0" y="135.0" width="1" height="15.0" fill="#089981"/><rect x="934.0" y="138.0" width="5" height="12.0" fill="#089981"/><rect x="944.0" y="124.0" width="1" height="22.0" fill="#089981"/><rect x="942.0" y="131.0" width="5" height="8.0" fill="#089981"/><rect x="951.0" y="78.0" width="1" height="54.0" fill="#089981"/><rect x="949.0" y="82.0" width="5" height="50.0" fill="#089981"/><rect x="959.0" y="75.0" width="1" height="12.0" fill="#089981"/><rect x="957.0" y="80.0" width="5" height="3.0" fill="#089981"/><rect x="966.0" y="68.0" width="1" height="25.0" fill="#f23645"/><rect x="964.0" y="80.0" width="5" height="10.0" fill="#f23645"/><rect x="974.0" y="88.0" width="1" height="20.0" fill="#f23645"/><rect x="972.0" y="89.0" width="5" height="8.0" fill="#f23645"/><rect x="981.0" y="83.0" width="1" height="24.0" fill="#089981"/><rect x="979.0" y="88.0" width="5" height="9.0" fill="#089981"/><rect x="989.0" y="86.0" width="1" height="34.0" fill="#f23645"/><rect x="987.0" y="88.0" width="5" height="27.0" fill="#f23645"/><rect x="996.0" y="109.0" width="1" height="17.0" fill="#089981"/><rect x="994.0" y="111.0" width="5" height="5.0" fill="#089981"/><rect x="0" y="205" width="1251" height="100" fill="rgba(255,235,59,0.2)"/><rect x="0" y="450" width="1251" height="35" fill="rgba(156,39,176,0.2)"/><rect x="0" y="204" width="1251" height="2" fill="#900ca3"/><rect x="0" y="305" width="1251" height="2" fill="#900ca3"/><rect x="0" y="449" width="1251" height="2" fill="#900ca3"/><line x1="1" y1="111.5" x2="1251" y2="111.5" stroke="#089981" stroke-width="1" stroke-dasharray="1 3"/><rect x="0" y="534" width="1251" height="124" fill="rgba(126,87,194,0.1)"/><line x1="1" y1="534.5" x2="1251" y2="534.5" stroke="#787b86" stroke-width="1" stroke-dasharray="5 6"/><line x1="1" y1="596.5" x2="1251" y2="596.5" stroke="#b2b5be" stroke-width="1" stroke-dasharray="5 6"/><line x1="1" y1="658.5" x2="1251" y2="658.5" stroke="#787b86" stroke-width="1" stroke-dasharray="5 6"/><defs><linearGradient id="ob" gradientUnits="userSpaceOnUse" x1="0" y1="490" x2="0" y2="534"><stop offset="0" stop-color="#4caf50" stop-opacity="0.42"/><stop offset="1" stop-color="#4caf50" stop-opacity="0"/></linearGradient><clipPath id="obc"><rect x="0" y="488" width="1251" height="46.5"/></clipPath></defs><polygon points="0.0,534.5 0.5,563.0 6.5,568.1 14.5,566.8 21.5,569.3 29.5,565.5 36.5,562.0 44.5,556.3 51.5,558.2 59.5,561.6 66.5,554.9 74.5,556.7 81.5,567.8 89.5,560.1 96.5,549.2 104.5,546.7 111.5,564.9 119.5,561.4 126.5,574.1 134.5,565.8 141.5,590.3 149.5,591.1 156.5,589.8 164.5,587.9 171.5,562.4 179.5,614.1 186.5,621.7 194.5,634.4 201.5,598.4 209.5,589.2 216.5,572.0 224.5,575.4 231.5,553.4 239.5,531.4 246.5,523.7 254.5,518.9 261.5,557.8 269.5,531.4 276.5,523.7 284.5,520.5 291.5,519.3 299.5,519.3 306.5,511.3 314.5,507.1 321.5,504.6 329.5,546.7 336.5,538.7 344.5,549.6 351.5,544.4 359.5,542.5 366.5,539.0 374.5,542.9 381.5,529.5 389.5,523.1 396.5,533.3 404.5,572.2 411.5,555.7 419.5,564.3 426.5,564.3 434.5,549.0 441.5,558.8 449.5,549.6 456.5,546.3 464.5,560.1 471.5,554.4 479.5,568.7 486.5,583.1 494.5,576.4 501.5,573.5 509.5,579.8 516.5,580.2 524.5,598.4 531.5,582.5 539.5,575.8 546.5,586.9 554.5,589.4 561.5,583.5 569.5,580.2 576.5,575.8 584.5,582.1 591.5,597.4 599.5,576.9 606.5,610.8 614.5,588.8 621.5,579.2 629.5,599.0 636.5,584.0 644.5,584.0 651.5,567.8 659.5,569.7 666.5,564.9 674.5,588.8 681.5,554.0 689.5,550.5 696.5,556.3 704.5,573.1 711.5,566.8 719.5,565.5 726.5,592.6 734.5,586.9 741.5,580.8 749.5,576.7 756.5,584.6 764.5,585.0 771.5,579.2 779.5,567.4 786.5,570.2 794.5,570.6 801.5,575.0 809.5,568.7 816.5,567.2 824.5,572.9 831.5,565.5 839.5,566.2 846.5,564.3 854.5,558.6 861.5,559.5 869.5,583.6 876.5,586.9 884.5,572.9 891.5,572.2 899.5,576.6 906.5,557.2 914.5,556.3 921.5,537.5 929.5,597.4 936.5,584.0 944.5,576.0 951.5,536.5 959.5,534.8 966.5,548.2 974.5,557.2 981.5,551.1 989.5,582.7 996.5,579.2 996.5,534.5" fill="url(#ob)" clip-path="url(#obc)" style="--g:1"/><polyline points="0.0,568.7 10.0,568.0 21.0,567.4 36.4,564.3 51.3,561.1 66.2,560.1 81.2,561.6 88.6,562.0 103.8,560.5 118.7,560.1 133.8,560.1 141.3,561.6 156.4,566.8 163.9,568.7 171.4,569.7 186.3,577.3 193.8,582.7 208.9,588.8 223.8,590.3 238.9,586.9 253.8,576.9 261.3,574.5 268.8,570.6 276.2,567.8 283.9,561.1 291.4,553.4 298.8,545.7 306.3,539.4 313.8,533.3 321.2,528.5 328.9,526.2 336.3,525.4 343.8,526.8 351.3,528.5 358.8,530.0 366.2,528.7 373.9,529.7 381.3,529.7 388.8,530.0 396.3,531.4 403.7,534.8 411.2,538.1 418.9,542.5 426.3,546.3 433.8,546.7 441.3,547.7 448.7,547.8 456.4,547.7 463.9,549.2 471.3,550.1 478.8,552.1 486.3,555.9 493.9,560.1 501.4,562.8 509.0,563.4 516.5,565.3 523.9,567.8 531.6,569.3 539.1,571.2 546.5,573.1 554.0,576.0 561.5,578.7 569.1,579.8 576.6,581.2 584.1,582.5 591.5,583.1 599.0,583.5 606.5,585.9 614.1,586.5 621.6,586.3 629.0,586.5 636.5,586.9 644.0,587.3 651.4,585.9 659.1,584.4 666.6,583.1 674.0,583.5 681.5,581.7 689.0,579.6 696.6,576.9 704.1,576.6 711.6,573.5 719.0,572.0 726.5,572.5 734.0,572.0 741.6,571.8 749.1,571.2 756.5,572.5 771.4,574.3 778.9,572.9 786.4,574.1 801.3,576.8 816.4,576.6 823.9,576.9 831.4,575.0 846.3,572.5 854.0,571.0 861.4,569.3 868.9,569.3 883.8,570.2 899.0,570.6 906.4,569.3 913.9,568.3 921.4,566.6 928.8,568.3 936.3,569.7 944.0,570.2 951.4,568.3 958.9,566.8 966.4,565.8 973.8,563.9 981.3,561.2 988.9,562.0 996.4,562.6" fill="none" stroke="#e6f531" stroke-width="1.5" stroke-linejoin="round"/><polyline points="0.5,563.0 6.5,568.1 14.5,566.8 21.5,569.3 29.5,565.5 36.5,562.0 44.5,556.3 51.5,558.2 59.5,561.6 66.5,554.9 74.5,556.7 81.5,567.8 89.5,560.1 96.5,549.2 104.5,546.7 111.5,564.9 119.5,561.4 126.5,574.1 134.5,565.8 141.5,590.3 149.5,591.1 156.5,589.8 164.5,587.9 171.5,562.4 179.5,614.1 186.5,621.7 194.5,634.4 201.5,598.4 209.5,589.2 216.5,572.0 224.5,575.4 231.5,553.4 239.5,531.4 246.5,523.7 254.5,518.9 261.5,557.8 269.5,531.4 276.5,523.7 284.5,520.5 291.5,519.3 299.5,519.3 306.5,511.3 314.5,507.1 321.5,504.6 329.5,546.7 336.5,538.7 344.5,549.6 351.5,544.4 359.5,542.5 366.5,539.0 374.5,542.9 381.5,529.5 389.5,523.1 396.5,533.3 404.5,572.2 411.5,555.7 419.5,564.3 426.5,564.3 434.5,549.0 441.5,558.8 449.5,549.6 456.5,546.3 464.5,560.1 471.5,554.4 479.5,568.7 486.5,583.1 494.5,576.4 501.5,573.5 509.5,579.8 516.5,580.2 524.5,598.4 531.5,582.5 539.5,575.8 546.5,586.9 554.5,589.4 561.5,583.5 569.5,580.2 576.5,575.8 584.5,582.1 591.5,597.4 599.5,576.9 606.5,610.8 614.5,588.8 621.5,579.2 629.5,599.0 636.5,584.0 644.5,584.0 651.5,567.8 659.5,569.7 666.5,564.9 674.5,588.8 681.5,554.0 689.5,550.5 696.5,556.3 704.5,573.1 711.5,566.8 719.5,565.5 726.5,592.6 734.5,586.9 741.5,580.8 749.5,576.7 756.5,584.6 764.5,585.0 771.5,579.2 779.5,567.4 786.5,570.2 794.5,570.6 801.5,575.0 809.5,568.7 816.5,567.2 824.5,572.9 831.5,565.5 839.5,566.2 846.5,564.3 854.5,558.6 861.5,559.5 869.5,583.6 876.5,586.9 884.5,572.9 891.5,572.2 899.5,576.6 906.5,557.2 914.5,556.3 921.5,537.5 929.5,597.4 936.5,584.0 944.5,576.0 951.5,536.5 959.5,534.8 966.5,548.2 974.5,557.2 981.5,551.1 989.5,582.7 996.5,579.2" fill="none" stroke="#a24fc5" stroke-width="1.3" stroke-linejoin="round"/><rect x="0" y="485" width="1356" height="1" fill="#e6e6e6"/><rect x="0" y="674" width="1356" height="2" fill="#e9e9e9"/><rect x="0" y="838" width="1356" height="1" fill="#e6e6e6"/></svg>

<!-- price axis main -->
<div class="ax" style="top:26px">159.600</div>
<div class="ax" style="top:171px">159.000</div>
<div class="ax" style="top:219px">158.800</div>
<div class="ax" style="top:267px">158.600</div>
<div class="ax" style="top:315px">158.400</div>
<div class="ax" style="top:364px">158.200</div>
<div class="ax" style="top:412px">158.000</div>
<div class="ax" style="top:460px">157.800</div>
<div class="ax" style="top:495px">80.00</div>
<div class="ax" style="top:557px">60.00</div>
<div class="ax" style="top:618px">40.00</div>
<div class="ax" style="top:675px">700,000.000</div>
<div class="ax" style="top:716px">650,000.000</div>
<div class="ax" style="top:757px">600,000.000</div>

<div class="lb" style="top:66px;width:70px;height:21px;line-height:21px;background:#f05a35">159.423</div>
<div class="lb" style="top:101px;width:70px;height:38px;background:#089981">159.279<br><span style="font-weight:normal;opacity:.75;position:relative;top:-2px;left:-.5px;letter-spacing:.35px">06:42</span></div>
<div class="lb" style="top:140px;width:70px;background:#3126ff">159.229</div>
<div class="lb" style="top:161px;width:70px;height:21px;line-height:21px;background:#0b8093">159.035</div>
<div class="lb" style="top:460px;width:58px;height:21px;line-height:21px;background:#26a69a">1.16&#8201;K</div>
<div class="lb" style="top:548px;width:54px;height:21px;line-height:21px;background:#e6ff2f;color:#131722;font-weight:normal">60.75</div>
<div class="lb" style="top:570px;width:54px;height:21px;line-height:21px;background:#9c51c6">55.26</div>

<!-- time axis -->
<div class="tm" style="left:51px">03:00</div>
<div class="tm" style="left:141px">06:00</div>
<div class="tm" style="left:231px">09:00</div>
<div class="tm" style="left:321px">12:00</div>
<div class="tm" style="left:411px">15:00</div>
<div class="tm" style="left:501px">18:00</div>
<div class="tm" style="left:591px">21:00</div>
<div class="tm" style="left:681px;font-weight:bold;-webkit-text-stroke:0">14</div>
<div class="tm" style="left:771px">03:00</div>
<div class="tm" style="left:861px">06:00</div>
<div class="tm" style="left:951px">09:00</div>
<div class="tm" style="left:1041px">12:00</div>
<div class="tm" style="left:1131px">15:00</div>
<div class="tm" style="left:1221px;width:31px;overflow:hidden;text-align:left"><span style="margin-left:12.200px;letter-spacing:-.5px">18:00</span></div>

<!-- legend -->
<svg style="position:absolute;left:10px;top:12px" width="28" height="24" viewBox="0 0 28 24">
 <circle cx="17.7" cy="6.4" r="7.4" fill="#eef2f9"/>
 <circle cx="17.7" cy="6.3" r="3.4" fill="#f7525f"/>
 <circle cx="10" cy="14" r="8.3" fill="#fff"/>
 <clipPath id="us"><circle cx="10" cy="14" r="7.1"/></clipPath>
 <g clip-path="url(#us)">
  <rect x="2" y="6" width="16" height="16" fill="#fff"/>
  <rect x="2" y="6.9" width="16" height="2.9" fill="#f0453f"/>
  <rect x="2" y="12" width="16" height="3.800" fill="#f0453f"/>
  <rect x="2" y="18" width="16" height="3.200" fill="#f0453f"/>
  <rect x="2" y="6.9" width="10.100" height="8.900" fill="#1e88e5"/>
  <g fill="#fff"><circle cx="7" cy="8.6" r=".6"/><circle cx="9.600" cy="8.600" r=".6"/><circle cx="4.600" cy="11.200" r=".6"/><circle cx="7" cy="11.200" r=".6"/><circle cx="9.600" cy="11.200" r=".6"/><circle cx="4.600" cy="13.800" r=".6"/><circle cx="7" cy="13.800" r=".6"/><circle cx="9.600" cy="13.800" r=".6"/></g>
 </g>
</svg>
<div class="t" id="title" style="left:40px;top:11px;font-size:20.400px;letter-spacing:-.39px;line-height:23px">Đô la Mỹ / Yên Nhật · 15 · OANDA</div>

<div style="position:absolute;left:351px;top:11px;width:50px;height:22px;border-radius:11px;overflow:hidden;background:#ddf1ed">
  <div style="position:absolute;left:25px;top:0;width:25px;height:22px;background:#f5bfd4"></div>
  <div style="position:absolute;left:9px;top:6px;width:10px;height:10px;border-radius:5px;background:#0c9b7e"></div>
  <svg style="position:absolute;left:31px;top:6px" width="12" height="10" viewBox="0 0 12 10"><path d="M1.500 3.300C2.900 1.200 4.400 1.300 6 2.400S9.200 3.400 10.600 1.500M1.500 8.200C2.900 6.100 4.400 6.200 6 7.300S9.200 8.300 10.600 6.400" fill="none" stroke="#e0125a" stroke-width="1.600" stroke-linecap="round"/></svg>
</div>
<div class="t" id="ohlc" style="left:412.500px;top:13px;font-size:16px;line-height:19px;color:#089981"><span style="color:#131722">O</span><span style="margin-left:1px">159.259</span><span style="color:#131722;margin-left:7.800px">H</span><span style="margin-left:.8px">159.286</span><span style="color:#131722;margin-left:8.600px">L</span><span style="margin-left:2px">159.216</span><span style="color:#131722;margin-left:8.100px">C</span><span style="margin-left:1px">159.279</span><span style="margin-left:9.600px">+0.015 (+0.01%)</span></div>

<!-- sell / buy -->
<div style="position:absolute;left:11px;top:42px;width:84px;height:43px;border:1px solid #f23645;border-radius:6px;color:#f23645;text-align:center">
 <div style="font-size:14.800px;font-weight:bold;line-height:16px;margin-top:4px;letter-spacing:.7px">159.27<span style="font-size:13px;position:relative;top:-1.800px;letter-spacing:0">1</span></div>
 <div style="font-size:13.600px;line-height:16px;margin-top:.5px;letter-spacing:.5px">BÁN</div>
</div>
<div class="t" style="left:105px;top:56px;font-size:12.5px;line-height:14px">1.6</div>
<div style="position:absolute;left:132px;top:42px;width:84px;height:43px;border:1px solid #2962ff;border-radius:6px;color:#2962ff;text-align:center">
 <div style="font-size:14.800px;font-weight:bold;line-height:16px;margin-top:4px;letter-spacing:.7px">159.28<span style="font-size:13px;position:relative;top:-1.800px;letter-spacing:0">7</span></div>
 <div style="font-size:13.600px;line-height:16px;margin-top:.5px;letter-spacing:.5px">MUA</div>
</div>

<div class="lg" id="bb" style="top:94px"><span>BB</span><span style="color:#6a6d78;word-spacing:.75px"> 20 SMA close 2</span><span style="color:#3a2cff;margin-left:12px">159.229</span><span style="color:#f7683b;margin-left:8px">159.423</span><span style="color:#0e8a9e;margin-left:8px">159.035</span></div>
<div class="lg" id="volg" style="top:124px;word-spacing:.5px">Khối lượng · Ticks<span style="color:#26a69a;margin-left:12px">1.16&#8201;K</span></div>
<div class="lg" id="ema" style="top:154px;color:#b8babf;letter-spacing:.12px">EMA 20/50/100/200</div>
<svg style="position:absolute;left:166px;top:155px" width="22" height="18" viewBox="0 0 22 18"><g fill="none" stroke="#131722" stroke-width="1.5" stroke-linecap="round"><path d="M1.600 9.300C3 5 6.500 2.400 11 2.400S18.800 5 20.600 9.300C18.800 13.600 15.500 16.200 11 16.200S3 13.600 1.600 9.300Z"/><circle cx="11" cy="9.300" r="3.500"/><path d="M3.200 17.400 19 1.400" stroke="#fff" stroke-width="4.400" stroke-linecap="butt"/><path d="M4.200 16.400 18 2.400" stroke-width="1.400"/></g></svg>

<div style="position:absolute;left:11px;top:183px;width:36px;height:26px;border:1px solid #dcdde0;border-radius:3.500px;background:rgba(255,255,255,.8)">
 <svg style="position:absolute;left:10.800px;top:7.800px" width="12" height="8" viewBox="0 0 12 8"><path d="M.8 6.500 6 1.500 11.200 6.500" fill="none" stroke="#131722" stroke-width="1.400"/></svg>
</div>

<div class="lg" id="rsi" style="top:496px">RSI<span style="color:#6a6d78;word-spacing:.5px"> 14 close</span><span style="color:#a24fc5;margin-left:10.300px;letter-spacing:.15px">55.26</span><span style="color:#e6f531;margin-left:7px;letter-spacing:.15px">60.75</span></div>
<div class="lg" id="cdv" style="top:686px;color:#b8babf;word-spacing:.8px">CDV Candle 50 200 50 200</div>
<svg style="position:absolute;left:223px;top:687px" width="22" height="18" viewBox="0 0 22 18"><g fill="none" stroke="#131722" stroke-width="1.5" stroke-linecap="round"><path d="M1.600 9.300C3 5 6.500 2.400 11 2.400S18.800 5 20.600 9.300C18.800 13.600 15.500 16.200 11 16.200S3 13.600 1.600 9.300Z"/><circle cx="11" cy="9.300" r="3.500"/><path d="M3.200 17.400 19 1.400" stroke="#fff" stroke-width="4.400" stroke-linecap="butt"/><path d="M4.200 16.400 18 2.400" stroke-width="1.400"/></g></svg>

<!-- TradingView logo -->
<svg style="position:absolute;left:16px;top:767px" width="200" height="26" viewBox="0 0 200 26">
 <g fill="#131722">
  <path d="M0 1h14.800v19h-7.600V8.200H0z"/>
  <circle cx="20.600" cy="4.600" r="3.600"/>
  <path d="M29.500 1h8.100l-8 19h-8.100z"/>
 </g>
 <text x="46" y="20" font-family="Liberation Sans, sans-serif" font-weight="bold" font-size="25.8" fill="#131722" textLength="151" lengthAdjust="spacingAndGlyphs">TradingView</text>
</svg>

<!-- bottom toolbar -->
<div class="rng" style="left:19px">1Ngày</div>
<div class="rng" style="left:84px">5Ngày</div>
<div class="rng" style="left:151px">1Tháng</div>
<div class="rng" style="left:224px">3Tháng</div>
<div class="rng" style="left:298.500px">6 tháng</div>
<div class="rng" style="left:371.800px">YTD</div>
<div class="rng" style="left:422.800px">1Năm</div>
<div class="rng" style="left:483.600px">5Năm</div>
<div class="rng" style="left:545.800px">Tất cả</div>
<div style="position:absolute;left:606.300px;top:849px;width:1.400px;height:28px;background:#e8e8e8"></div>
<svg style="position:absolute;left:622px;top:848px" width="28" height="28" viewBox="0 0 28 28"><g fill="none" stroke="#1e1e1e" stroke-width="1.400" stroke-linecap="round"><path d="M3.800 12.600V7.400a2.500 2.500 0 0 1 2.500-2.500H22.600a2.500 2.500 0 0 1 2.500 2.500V21.500a2.500 2.500 0 0 1-2.500 2.500H14.500"/><path d="M3.800 10H25.100M10.100 2.400V6.600M18.900 2.400V6.600"/><path d="M2.100 20.100H11.500M7.300 15.700 11.700 20.100 7.300 24.500"/></g></svg>
<div class="rng" id="clock" style="left:1220px;top:853px;letter-spacing:0;font-size:16.800px;-webkit-text-stroke:.3px #131722">09:38:18 UTC+7</div>
<svg style="position:absolute;left:1294px;top:811px" width="22" height="22" viewBox="0 0 22 22"><g fill="none" stroke="#1e1e1e" stroke-width="1.150"><path d="M6.100 3.650h8.600l4.300 7.450-4.300 7.450h-8.600L1.800 11.100z"/><circle cx="10.400" cy="11.100" r="2"/></g></svg>
</div></div>
</body></html>
